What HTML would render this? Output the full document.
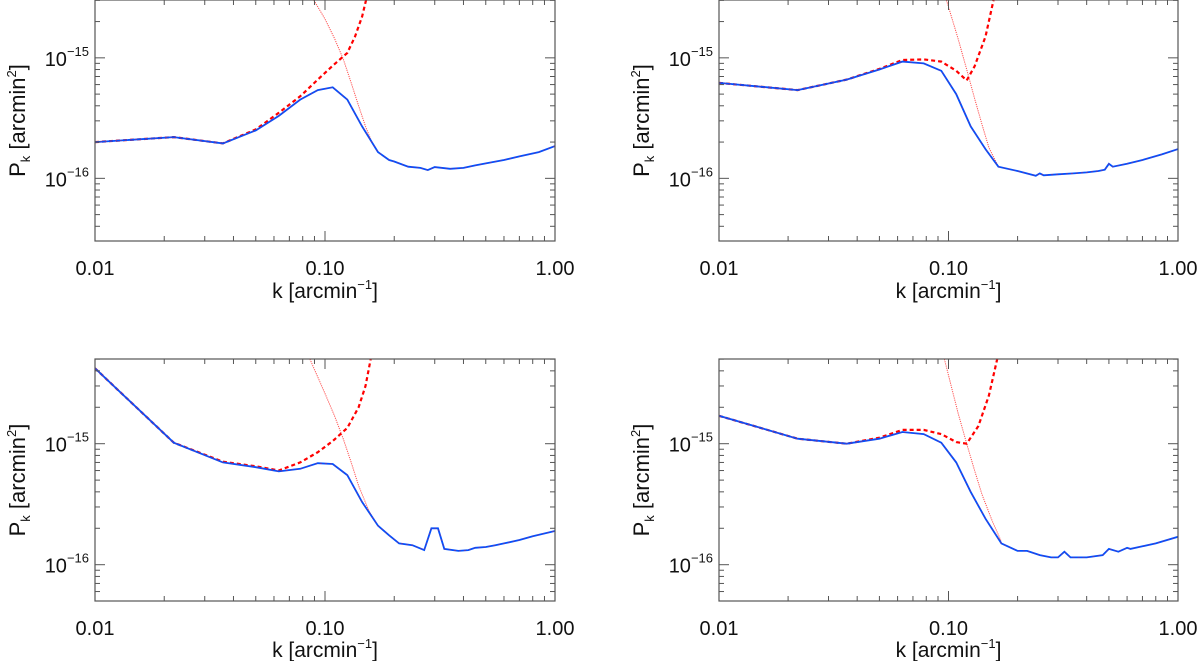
<!DOCTYPE html>
<html><head><meta charset="utf-8"><style>
html,body{margin:0;padding:0;background:#fff;}
svg{display:block;font-family:"Liberation Sans",sans-serif;}
</style></head><body>
<svg id="fig" width="1200" height="661" viewBox="0 0 1200 661"></svg>
<script>
// ---- data (P in units of 1e-16 arcmin^2) ----
const tlK = [0.01,0.022,0.036,0.05,0.063,0.078,0.093,0.108,0.125,0.145,0.17,0.19,0.2,0.23,0.26,0.28,0.3,0.35,0.4,0.45,0.5,0.6,0.7,0.85,1.0];
const tlBlue = [2.0,2.2,1.95,2.5,3.3,4.5,5.4,5.7,4.5,2.7,1.65,1.42,1.38,1.25,1.22,1.17,1.24,1.2,1.22,1.28,1.33,1.42,1.52,1.65,1.85];
const tlDashK = [0.01,0.022,0.036,0.05,0.063,0.078,0.093,0.108,0.125,0.135,0.145,0.152];
const tlDash = [2.0,2.2,1.95,2.55,3.5,4.8,6.6,8.6,11,15,22,32];
const tlDotK = [0.0895,0.1,0.11,0.12,0.13,0.14,0.15,0.16,0.17];
const tlDot = [30,21,14.5,9.8,6.2,4.0,2.7,2.0,1.65];

const trK = [0.01,0.022,0.036,0.05,0.063,0.078,0.093,0.108,0.125,0.145,0.165,0.2,0.24,0.25,0.26,0.3,0.35,0.4,0.45,0.48,0.5,0.52,0.6,0.7,0.85,1.0];
const trBlue = [6.2,5.4,6.6,8.0,9.3,9.0,7.8,5.0,2.7,1.75,1.25,1.15,1.05,1.1,1.06,1.08,1.1,1.12,1.15,1.18,1.32,1.25,1.32,1.42,1.58,1.75];
const trDashK = [0.01,0.022,0.036,0.05,0.063,0.078,0.093,0.108,0.12,0.13,0.145,0.157];
const trDash = [6.2,5.4,6.6,8.1,9.6,9.7,9.3,7.8,6.5,8.5,15,30];
const trDotK = [0.098,0.11,0.12,0.13,0.14,0.15,0.165];
const trDot = [30,14.5,8.0,4.6,2.8,1.8,1.25];

const blK = [0.01,0.022,0.036,0.05,0.063,0.078,0.093,0.108,0.125,0.145,0.17,0.19,0.21,0.24,0.27,0.29,0.31,0.33,0.38,0.42,0.45,0.5,0.55,0.6,0.7,0.8,1.0];
const blBlue = [42,10.2,7.0,6.4,5.9,6.2,6.9,6.8,5.5,3.3,2.1,1.75,1.5,1.45,1.32,2.0,2.0,1.35,1.3,1.32,1.38,1.4,1.45,1.5,1.6,1.72,1.9];
const blDashK = [0.01,0.022,0.036,0.05,0.063,0.078,0.093,0.108,0.125,0.14,0.15,0.158];
const blDash = [42,10.2,7.1,6.5,6.0,7.0,8.5,10.5,13.5,20,30,50];
const blDotK = [0.086,0.1,0.11,0.12,0.13,0.14,0.155,0.17];
const blDot = [50,26,17,11,7,4.5,2.8,2.1];

const brK = [0.01,0.022,0.036,0.05,0.063,0.078,0.093,0.108,0.125,0.145,0.17,0.2,0.22,0.25,0.28,0.3,0.32,0.34,0.4,0.47,0.5,0.55,0.6,0.62,0.7,0.8,1.0];
const brBlue = [17,11,10,11,12.5,12,10.2,7,4,2.4,1.5,1.3,1.3,1.2,1.15,1.15,1.28,1.15,1.15,1.2,1.35,1.28,1.38,1.35,1.42,1.5,1.7];
const brDashK = [0.01,0.022,0.036,0.05,0.063,0.078,0.093,0.108,0.12,0.135,0.15,0.163];
const brDash = [17,11,10,11.2,13,13,12,10.3,10,14,25,50];
const brDotK = [0.096,0.11,0.12,0.13,0.14,0.155,0.17];
const brDot = [50,18,10,6,3.8,2.3,1.55];

const xTickLabels = ["0.01","0.10","1.00"];
const xTickVals = [0.01,0.1,1];

const NS="http://www.w3.org/2000/svg";
const svg=document.getElementById('fig');
function mk(tag,attrs,parent){const e=document.createElementNS(NS,tag);for(const k in attrs)e.setAttribute(k,attrs[k]);(parent||svg).appendChild(e);return e;}

const panels=[
 {name:'top-left',x0:95,x1:555,y0:0,y1:241,lo:-16.52,hi:-14.52,K:tlK,B:tlBlue,DK:tlDashK,D:tlDash,OK:tlDotK,O:tlDot,xl:298},
 {name:'top-right',x0:719,x1:1178,y0:0,y1:241,lo:-16.52,hi:-14.52,K:trK,B:trBlue,DK:trDashK,D:trDash,OK:trDotK,O:trDot,xl:298},
 {name:'bottom-left',x0:95,x1:555,y0:359,y1:601,lo:-16.3,hi:-14.3,K:blK,B:blBlue,DK:blDashK,D:blDash,OK:blDotK,O:blDot,xl:657},
 {name:'bottom-right',x0:719,x1:1178,y0:359,y1:601,lo:-16.3,hi:-14.3,K:brK,B:brBlue,DK:brDashK,D:brDash,OK:brDotK,O:brDot,xl:657}
];

panels.forEach(p=>{
 const g=mk('g',{});
 
 
 const xs=k=>p.x0+(Math.log10(k)+2)/2*(p.x1-p.x0);
 const ys=v=>p.y1-(Math.log10(v*1e-16)-p.lo)/(p.hi-p.lo)*(p.y1-p.y0);
 const cid='clip-'+p.name;
 const cp=mk('clipPath',{id:cid},g);mk('rect',{x:p.x0,y:p.y0,width:p.x1-p.x0,height:p.y1-p.y0},cp);
 const line=(K,V,attrs,nm)=>{const d=K.map((k,i)=>(i?'L':'M')+xs(k).toFixed(1)+','+ys(V[i]).toFixed(1)).join('');
  const e=mk('path',Object.assign({d:d,fill:'none','clip-path':'url(#'+cid+')'},attrs),g);
  
  };
 line(p.OK,p.O,{stroke:'#ff5050','stroke-width':1,'stroke-dasharray':'1.2,1'},'noise-dotted-line');
 line(p.DK,p.D,{stroke:'#ff0000','stroke-width':2.2,'stroke-dasharray':'4,3'},'total-dashed-line');
 line(p.K,p.B,{stroke:'#0050ff','stroke-width':1.8},'signal-blue-line');
 line(p.K,p.B,{stroke:'#c02060','stroke-width':0.8,'stroke-dasharray':'2,3','opacity':0.6},'overlay-red-line');
 const fr=mk('rect',{x:p.x0,y:p.y0,width:p.x1-p.x0,height:p.y1-p.y0,fill:'none',stroke:'#555','stroke-width':1.2},g);
 
 
 for(let d=-2;d<0;d++)for(let m=1;m<10;m++){const k=m*Math.pow(10,d);const x=xs(k);const L=m==1?10:5;
  mk('line',{x1:x,x2:x,y1:p.y1,y2:p.y1-L,stroke:'#555'},g);mk('line',{x1:x,x2:x,y1:p.y0,y2:p.y0+L,stroke:'#555'},g);}
 xTickVals.forEach((v,i)=>{const t=mk('text',{x:xs(v),y:p.y1+34,'text-anchor':'middle','font-size':20,fill:'#111'},g);t.textContent=xTickLabels[i];
  
  });
 for(let d=-17;d<=-15;d++)for(let m=1;m<10;m++){const v=m*Math.pow(10,d);const lv=Math.log10(v);if(lv<p.lo||lv>p.hi)continue;
  const y=ys(v*1e16);const L=m==1?10:5;
  mk('line',{x1:p.x0,x2:p.x0+L,y1:y,y2:y,stroke:'#555'},g);mk('line',{x1:p.x1,x2:p.x1-L,y1:y,y2:y,stroke:'#555'},g);
  if(m==1){const t=mk('text',{x:p.x0-6,y:y+8,'text-anchor':'end','font-size':20,fill:'#111'},g);
   t.innerHTML='10<tspan dy="-10" font-size="13">−'+(-d)+'</tspan>';
   
   }}
 const xt=mk('text',{x:(p.x0+p.x1)/2,y:p.xl,'text-anchor':'middle','font-size':21,fill:'#111'},g);
 xt.innerHTML='k [arcmin<tspan dy="-9" font-size="13">−1</tspan><tspan dy="9">]</tspan>';
 
 
 const cy=(p.y0+p.y1)/2, cx=p.x0-70;
 const yt=mk('text',{x:cx,y:cy,'text-anchor':'middle','font-size':22,fill:'#111',transform:'rotate(-90 '+cx+' '+cy+')'},g);
 yt.innerHTML='P<tspan dy="5" font-size="13">k</tspan><tspan dy="-5"> [arcmin</tspan><tspan dy="-9" font-size="13">2</tspan><tspan dy="9">]</tspan>';
 
 
});
</script>
</body></html>
